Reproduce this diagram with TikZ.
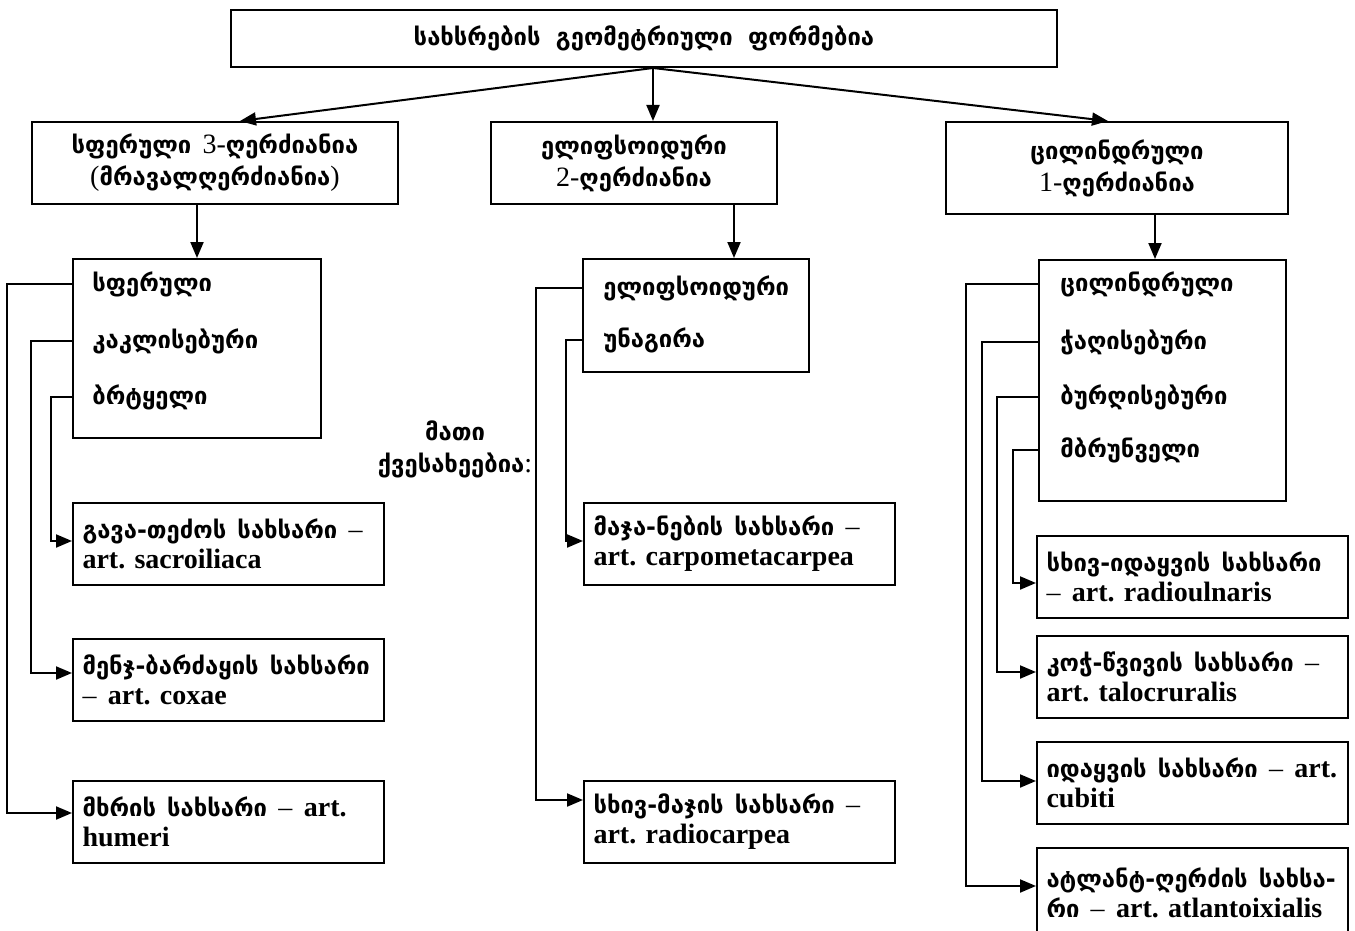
\documentclass[tikz,border=0pt]{standalone}
\usepackage{fontspec}
\setmainfont{Liberation Serif}
\newfontfamily\geofont[Scale=0.85]{DejaVu Sans}
\newcommand\kat[1]{{\geofont\bfseries #1}}
\newcommand\gap{\hspace{0.4em}}
\frenchspacing
\usetikzlibrary{arrows.meta}
\tikzset{
  box/.style={draw, line width=1pt, inner sep=0pt},
  leaf/.style={box, minimum width=155.5pt, minimum height=41pt,
    text width=146pt, align=left, font=\fontsize{14}{15}\selectfont},
  head/.style={box, align=center, font=\fontsize{14}{16}\selectfont},
  item/.style={anchor=west, inner sep=0pt, font=\fontsize{14}{15}\selectfont},
  arr/.style={line width=1pt, -{Triangle[length=8pt,width=6.5pt]}},
}
\begin{document}
\begin{tikzpicture}[x=0.5pt,y=-0.5pt]
\useasboundingbox (0,0) rectangle (1355,931);
\clip (0,0) rectangle (1355,931);

% top level
\node[head, minimum width=413pt, minimum height=28.5pt] (title) at (644,38.5)
  {\kat{სახსრების}\hspace{0.55em}\kat{გეომეტრიული}\hspace{0.55em}\kat{ფორმებია}};

% three classes
\node[head, minimum width=183pt, minimum height=41pt] (sph) at (215,163)
  {\kat{სფერული}\gap3-\kat{ღერძიანია}\\(\kat{მრავალღერძიანია})};
\node[head, minimum width=143pt, minimum height=41pt] (ell) at (634,163)
  {\kat{ელიფსოიდური}\\2-\kat{ღერძიანია}};
\node[head, minimum width=171pt, minimum height=46pt] (cyl) at (1117,168)
  {\kat{ცილინდრული}\\1-\kat{ღერძიანია}};

\coordinate (hub) at ([xshift=4.5pt]title.south);
\draw[arr] (hub) -- ([xshift=12.5pt]sph.north);
\draw[arr] (hub) -- (hub |- ell.north);
\draw[arr] (hub) -- ([xshift=-4.5pt]cyl.north);

% lists of subtypes
\node[box, minimum width=124pt, minimum height=89.5pt] (lsph) at (197,348.5) {};
\node[box, minimum width=113pt, minimum height=56.5pt] (lell) at (696,315.5) {};
\node[box, minimum width=123.5pt, minimum height=120.5pt] (lcyl) at (1162.5,380.5) {};

\draw[arr] (sph.south -| lsph.north) -- (lsph.north);
\draw[arr] ([xshift=19pt]lell.north |- ell.south) -- ([xshift=19pt]lell.north);
\draw[arr] ([xshift=-3.75pt]lcyl.north |- cyl.south) -- ([xshift=-3.75pt]lcyl.north);

\node[item] (d1) at (92,284) {\kat{სფერული}};
\node[item] (d2) at (92,341) {\kat{კაკლისებური}};
\node[item] (d3) at (92,397) {\kat{ბრტყელი}};

\node[item] (e1) at (603,288) {\kat{ელიფსოიდური}};
\node[item] (e2) at (603,340) {\kat{უნაგირა}};

\node[item] (f1) at (1060,284) {\kat{ცილინდრული}};
\node[item] (f2) at (1060,342) {\kat{ჭაღისებური}};
\node[item] (f3) at (1060,397) {\kat{ბურღისებური}};
\node[item] (f4) at (1060,450) {\kat{მბრუნველი}};

\node[align=center, inner sep=0pt, font=\fontsize{14}{16}\selectfont] (sub) at (455,449)
  {\kat{მათი}\\\kat{ქვესახეებია}:};

% joints
\node[leaf] (l1) at (228.5,544)
  {\mbox{\kat{გავა-თეძოს}\gap\kat{სახსარი}\gap–}\\\mbox{\textbf{art. sacroiliaca}}};
\node[leaf] (l2) at (228.5,679.5)
  {\mbox{\kat{მენჯ-ბარძაყის}\gap\kat{სახსარი}}\\\mbox{–\gap\textbf{art. coxae}}};
\node[leaf] (l3) at (228.5,822)
  {\mbox{\kat{მხრის}\gap\kat{სახსარი}\gap–\gap\textbf{art.}}\\\mbox{\textbf{humeri}}};

\node[leaf] (m1) at (739.5,544)
  {\mbox{\kat{მაჯა-ნების}\gap\kat{სახსარი}\gap–}\\\mbox{\textbf{art. carpometacarpea}}};
\node[leaf] (m2) at (739.5,822)
  {\mbox{\kat{სხივ-მაჯის}\gap\kat{სახსარი}\gap–}\\\mbox{\textbf{art. radiocarpea}}};

\node[leaf] (r1) at (1192.5,576.5)
  {\mbox{\kat{სხივ-იდაყვის}\gap\kat{სახსარი}}\\\mbox{–\gap\textbf{art. radioulnaris}}};
\node[leaf] (r2) at (1192.5,676.5)
  {\mbox{\kat{კოჭ-წვივის}\gap\kat{სახსარი}\gap–}\\\mbox{\textbf{art. talocruralis}}};
\node[leaf] (r3) at (1192.5,782.5)
  {\mbox{\kat{იდაყვის}\gap\kat{სახსარი}\gap–\gap\textbf{art.}}\\\mbox{\textbf{cubiti}}};
\node[leaf, minimum height=45pt] (r4) at (1192.5,893)
  {\mbox{\kat{ატლანტ-ღერძის}\gap\kat{სახსა-}}\\\mbox{\kat{რი}\gap–\gap\textbf{art. atlantoixialis}}};

% elbow connectors from subtypes to joints
\draw[arr] (lsph.west |- d1) -- ++(-65,0) |- ([yshift=4.5pt]l3.west);
\draw[arr] (lsph.west |- d2) -- ++(-41,0) |- ([yshift=3.25pt]l2.west);
\draw[arr] (lsph.west |- d3) -- ++(-21,0) |- ([yshift=1.5pt]l1.west);

\draw[arr] (lell.west |- e1) -- ++(-46,0) |- ([yshift=11pt]m2.west);
\draw[arr] (lell.west |- e2) -- ++(-16,0) |- ([yshift=1.5pt]m1.west);

\draw[arr] (lcyl.west |- f1) -- ++(-72,0) |- ([yshift=3.5pt]r4.west);
\draw[arr] (lcyl.west |- f2) -- ++(-56,0) |- ([yshift=0.75pt]r3.west);
\draw[arr] (lcyl.west |- f3) -- ++(-41,0) |- ([yshift=2.25pt]r2.west);
\draw[arr] (lcyl.west |- f4) -- ++(-25,0) |- ([yshift=-3.25pt]r1.west);
\end{tikzpicture}
\end{document}
